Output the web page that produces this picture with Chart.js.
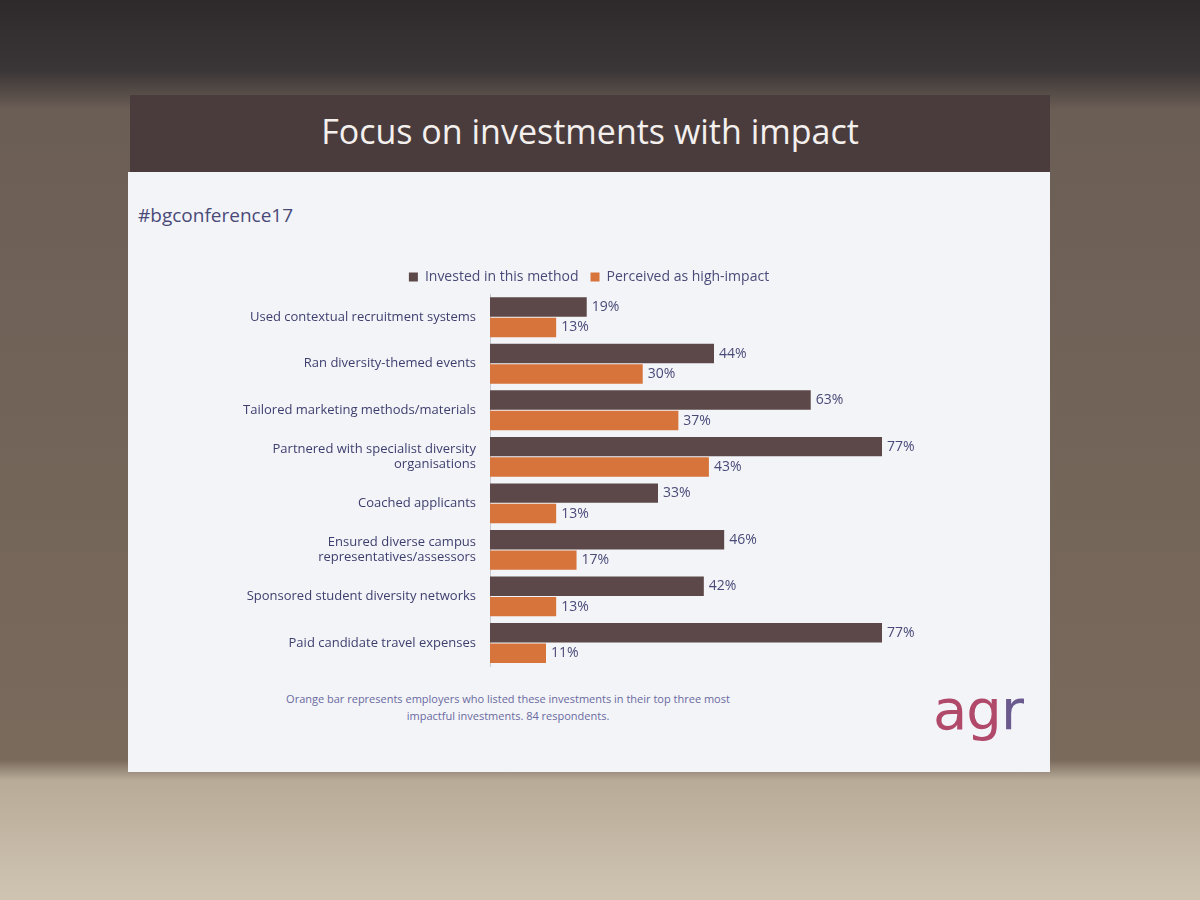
<!DOCTYPE html>
<html lang="en">
<head>
<meta charset="UTF-8">
<title>Focus on investments with impact</title>
<script src="https://cdn.jsdelivr.net/npm/chart.js"></script>
<style>
    body {
        margin: 0;
        width: 1200px;
        height: 900px;
        overflow: hidden;
        font-family: "Open Sans", Arial, sans-serif;
        background: linear-gradient(#2e2a2c 0px, #3a3536 70px, #6b5e55 110px, #7a6a5c 760px, #b8ab98 780px, #cfc4b2 900px);
        position: relative;
    }
    .band {
        position: absolute;
        left: 130px; top: 95px; width: 920px; height: 80px;
        background: #4a3c3d;
    }
    h1 {
        position: absolute;
        left: 130px; top: 108px; width: 920px;
        margin: 0;
        text-align: center;
        color: #f4f0ee;
        font-weight: 400;
        font-size: 34px;
    }
    .panel {
        position: absolute;
        left: 128px; top: 172px; width: 922px; height: 600px;
        background: #f3f4f8;
    }
    .tag {
        position: absolute;
        left: 10px; top: 30px;
        color: #4a4a78;
        font-size: 19px;
    }
    .chart-box {
        position: absolute;
        left: 0; top: 86px; width: 922px; height: 430px;
    }
    .note {
        position: absolute;
        left: 150px; top: 518px; width: 460px;
        text-align: center;
        color: #6a6aa0;
        font-size: 11px;
        line-height: 17px;
    }
    .logo {
        position: absolute;
        left: 805px; top: 505px;
        font-size: 56px;
        color: #b0496a;
        font-family: "DejaVu Sans", sans-serif;
        letter-spacing: -1px;
    }
    .logo span { color: #6b5a8e; }
</style>
</head>
<body>
<div class="band"></div>
<h1>Focus on investments with impact</h1>
<div class="panel">
    <div class="tag">#bgconference17</div>
    <div class="chart-box"><canvas id="chart"></canvas></div>
    <div class="note">Orange bar represents employers who listed these investments in their top three most impactful investments. 84 respondents.</div>
    <div class="logo">ag<span>r</span></div>
</div>
<script>
    const categories = [
        "Used contextual recruitment systems",
        "Ran diversity-themed events",
        "Tailored marketing methods/materials",
        ["Partnered with specialist diversity", "organisations"],
        "Coached applicants",
        ["Ensured diverse campus", "representatives/assessors"],
        "Sponsored student diversity networks",
        "Paid candidate travel expenses"
    ];
    const invested = [19, 44, 63, 77, 33, 46, 42, 77];
    const highImpact = [13, 30, 37, 43, 13, 17, 13, 11];

    const valueLabels = {
        id: 'valueLabels',
        afterDatasetsDraw(chart) {
            const ctx = chart.ctx;
            ctx.save();
            ctx.font = '14px "Open Sans", Arial, sans-serif';
            ctx.fillStyle = '#4a4a78';
            ctx.textBaseline = 'middle';
            chart.data.datasets.forEach((ds, i) => {
                chart.getDatasetMeta(i).data.forEach((bar, j) => {
                    ctx.fillText(ds.data[j] + '%', bar.x + 5, bar.y);
                });
            });
            ctx.restore();
        }
    };

    new Chart(document.getElementById('chart'), {
        type: 'bar',
        data: {
            labels: categories,
            datasets: [
                { label: 'Invested in this method', data: invested, backgroundColor: '#5c4848' },
                { label: 'Perceived as high-impact', data: highImpact, backgroundColor: '#d6743c' }
            ]
        },
        options: {
            indexAxis: 'y',
            responsive: true,
            maintainAspectRatio: false,
            animation: false,
            categoryPercentage: 0.88,
            barPercentage: 0.95,
            layout: { padding: { top: 0, bottom: 0 } },
            plugins: {
                legend: {
                    labels: {
                        boxWidth: 9, boxHeight: 9,
                        color: '#4a4a78',
                        padding: 12,
                        font: { size: 14, family: '"Open Sans", Arial, sans-serif' }
                    }
                },
                tooltip: { enabled: false }
            },
            scales: {
                x: { display: false, min: 0, max: 110 },
                y: {
                    afterFit(scale) { scale.width = 362; },
                    grid: { display: false, drawTicks: false },
                    border: { color: '#c8c8d0' },
                    ticks: {
                        color: '#3e3e6e',
                        padding: 14,
                        font: { size: 13, family: '"Open Sans", Arial, sans-serif' }
                    }
                }
            }
        },
        plugins: [valueLabels]
    });
</script>
</body>
</html>
